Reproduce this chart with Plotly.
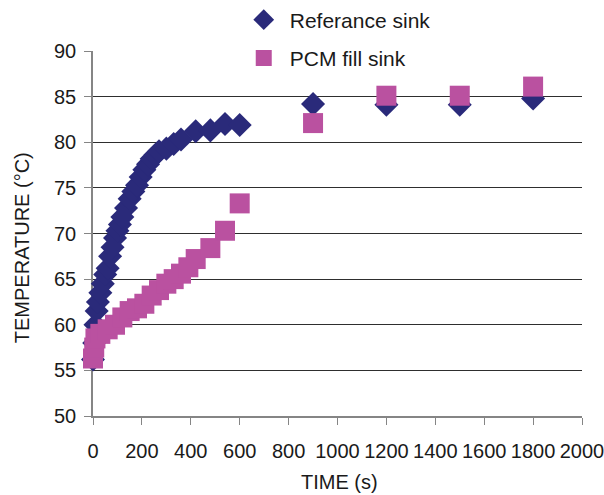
import plotly.graph_objects as go

# Reference sink (diamonds)
ref_time = [0, 5, 10, 15, 20, 30, 40, 50, 60, 70, 80, 90, 100, 110, 120, 135, 150, 165,
            180, 195, 210, 225, 240, 255, 270, 300, 330, 360, 420, 480, 540, 600,
            900, 1200, 1500, 1800]
ref_temp = [56.2, 58.0, 60.0, 61.5, 62.5, 63.5, 64.5, 65.5, 66.2, 67.5, 68.5, 69.5, 70.3,
            71.0, 71.8, 72.8, 73.8, 74.6, 75.3, 76.2, 77.0, 77.6, 78.2, 78.6, 79.0, 79.3,
            79.8, 80.3, 81.2, 81.3, 82.0, 81.9, 84.2, 84.1, 84.1, 84.8]

# PCM fill sink (squares)
pcm_time = [0, 5, 10, 30, 60, 90, 120, 150, 180, 210, 240, 270, 300, 330, 360, 390, 420,
            480, 540, 600, 900, 1200, 1500, 1800]
pcm_temp = [56.3, 57.5, 58.5, 59.0, 59.5, 60.0, 60.8, 61.5, 61.8, 62.3, 63.2, 63.8, 64.5,
            65.0, 65.6, 66.3, 67.2, 68.4, 70.3, 73.3, 82.1, 85.1, 85.1, 86.1]

x_ticks = [0, 200, 400, 600, 800, 1000, 1200, 1400, 1600, 1800, 2000]
y_ticks = [50, 55, 60, 65, 70, 75, 80, 85, 90]
grid_vals = [55, 60, 65, 70, 75, 80, 85]

FONT = "Liberation Sans, Arial, sans-serif"
TXT = "#1a1a1a"
AXC = "#858585"

fig = go.Figure()
fig.add_trace(go.Scatter(
    x=ref_time, y=ref_temp, mode="markers", name="Referance sink",
    marker=dict(symbol="diamond", size=18.5, color="#2a2a7a", line=dict(width=0)),
    cliponaxis=False, legend="legend"))
fig.add_trace(go.Scatter(
    x=pcm_time, y=pcm_temp, mode="markers", name="PCM fill sink",
    marker=dict(symbol="square", size=20, color="#ba51a0", line=dict(width=0)),
    cliponaxis=False, legend="legend2"))
# dummy trace to anchor the grid axis
fig.add_trace(go.Scatter(x=[], y=[], yaxis="y2", showlegend=False, hoverinfo="skip"))

fig.update_layout(
    width=604, height=495,
    margin=dict(l=93, r=22, t=51, b=79, autoexpand=False),
    paper_bgcolor="white", plot_bgcolor="white",
    showlegend=True,
    font=dict(family=FONT, color=TXT, size=20),
    xaxis=dict(range=[0, 2000], tickvals=x_ticks, ticks="outside", ticklen=7,
               tickcolor=AXC, tickwidth=1.3, showline=True, linecolor=AXC, linewidth=1.5,
               showgrid=False, zeroline=False, layer="below traces",
               tickfont=dict(size=20), ticklabelstandoff=9, ticklabeloverflow="allow"),
    yaxis=dict(range=[50, 90], tickvals=y_ticks, ticks="outside", ticklen=7,
               tickcolor=AXC, tickwidth=1.3, showline=True, linecolor=AXC, linewidth=1.5,
               showgrid=False, zeroline=False, layer="below traces",
               tickfont=dict(size=20), ticklabelstandoff=4),
    yaxis2=dict(range=[50, 90], overlaying="y", side="left", tickvals=grid_vals,
                showgrid=True, gridcolor="#2e2e2e", gridwidth=1, showticklabels=False,
                ticks="", showline=False, zeroline=False, layer="below traces"),
    legend=dict(x=0.296, y=1.085, xanchor="left", yanchor="middle", itemwidth=42,
                font=dict(size=21, family=FONT, color=TXT), bgcolor="rgba(0,0,0,0)"),
    legend2=dict(x=0.296, y=0.98, xanchor="left", yanchor="middle", itemwidth=42,
                 font=dict(size=21, family=FONT, color=TXT), bgcolor="rgba(0,0,0,0)"),
    annotations=[
        dict(text="TIME (s)", xref="paper", yref="paper", x=0.505, y=-0.181,
             xanchor="center", yanchor="middle", showarrow=False,
             font=dict(size=20, family=FONT, color=TXT)),
        dict(text="TEMPERATURE (°C)", xref="paper", yref="paper", x=-0.145, y=0.46,
             xanchor="center", yanchor="middle", textangle=-90, showarrow=False,
             font=dict(size=20, family=FONT, color=TXT)),
    ],
)

fig.write_html("out.html")
